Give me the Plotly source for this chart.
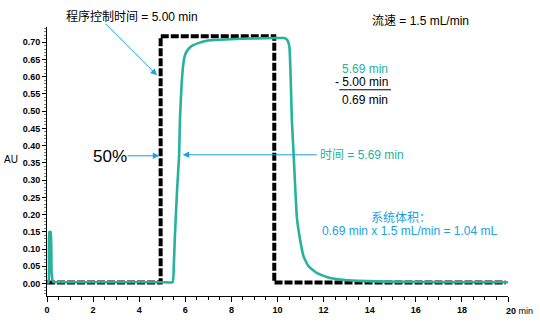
import plotly.graph_objects as go

# ---- data ----
step_x = [0, 4.93, 4.93, 9.86, 9.86, 19.9]
step_y = [0.003, 0.003, 0.717, 0.717, 0.003, 0.003]

trace_x = [0.0, 0.07, 0.1, 0.16, 0.2, 0.26, 0.4, 2.0, 4.0, 5.0, 5.45, 5.5, 5.55, 5.65, 5.73,
           5.77, 5.84, 5.92, 6.0, 6.13, 6.3, 6.6, 6.93, 7.5, 8.4, 9.8, 10.3, 10.4, 10.47,
           10.52, 10.58, 10.62, 10.7, 10.84, 11.0, 11.13, 11.35, 11.7, 12.2, 12.7, 13.5,
           15.0, 17.0, 20.0]
trace_y = [0.002, 0.004, 0.15, 0.15, 0.03, 0.006, 0.004, 0.004, 0.004, 0.004, 0.004, 0.05,
           0.14, 0.28, 0.37, 0.48, 0.578, 0.64, 0.665, 0.68, 0.69, 0.698, 0.704, 0.707,
           0.71, 0.712, 0.712, 0.708, 0.70, 0.684, 0.578, 0.479, 0.374, 0.193, 0.12, 0.079,
           0.05, 0.031, 0.018, 0.012, 0.008, 0.005, 0.004, 0.004]

y_ticks = [round(0.05 * i, 2) for i in range(15)]
x_ticks = [0, 2, 4, 6, 8, 10, 12, 14, 16, 18, 20]
x_ticktext = ["0", "2", "4", "6", "8", "10", "12", "14", "16", "18", ""]

TEAL = "rgb(38,178,155)"
BLUE = "rgb(27,160,226)"
FONT = "Liberation Sans, Arial, Noto Sans CJK SC"

L, R, T, B = 47, 32, 27, 27
W, H = 540, 327
X0, X1 = 0, 20
Y0, Y1 = -0.036, 0.744


def px2p(px):
    return (px - L) / (W - L - R)


def py2p(py):
    return (H - B - py) / (H - T - B)


fig = go.Figure()
fig.add_trace(go.Scatter(x=step_x, y=step_y, mode="lines",
                         line=dict(color="black", width=4, dash="8px,2px"),
                         hoverinfo="skip", cliponaxis=False))
fig.add_trace(go.Scatter(x=trace_x, y=trace_y, mode="lines",
                         line=dict(color=TEAL, width=2.6, shape="spline", smoothing=0.4),
                         hoverinfo="skip", cliponaxis=False))

ann = []


def text(px, py, s, color="black", size=12, anchor="center"):
    ann.append(dict(x=px2p(px), y=py2p(py), xref="paper", yref="paper", text=s,
                    showarrow=False, xanchor=anchor, yanchor="middle",
                    font=dict(family=FONT, size=size, color=color)))


def arrow(tx, ty, sx, sy):
    ann.append(dict(x=px2p(tx), y=py2p(ty), xref="paper", yref="paper",
                    ax=sx - tx, ay=sy - ty, text="", showarrow=True,
                    arrowhead=2, arrowsize=1.3, arrowwidth=1, arrowcolor=BLUE))


text(131.5, 16.7, "程序控制时间 = 5.00 min")
arrow(157, 76, 104, 23)
text(420, 21.3, "流速 = 1.5 mL/min")
text(390, 69.3, "5.69 min", color=TEAL, anchor="right")
text(390, 83.3, "- 5.00 min", anchor="right")
text(390, 100.7, "0.69 min", anchor="right")
text(109.7, 158.3, "50%", size=17)
arrow(159.3, 157.7, 126, 157.7)
arrow(182.7, 156.7, 318.3, 156.7)
text(317.5, 156.7, "时间 = 5.69 min", color=TEAL, anchor="left")
text(369, 221.2, "系统体积：", color=BLUE, anchor="left")
text(409, 233.8, "0.69 min x 1.5 mL/min = 1.04 mL", color=BLUE)
text(10.5, 161, "AU", size=10)
text(504, 315, "<b>20</b> min", size=9, anchor="left")

fig.update_layout(
    width=W, height=H,
    margin=dict(l=L, r=R, t=T, b=B),
    plot_bgcolor="white", paper_bgcolor="white",
    showlegend=False,
    annotations=ann,
    shapes=[dict(type="line", xref="paper", yref="paper", x0=px2p(339.3), x1=px2p(391),
                 y0=py2p(90.7), y1=py2p(90.7), line=dict(color="black", width=1))],
    xaxis=dict(range=[X0, X1], showgrid=False, zeroline=False, showline=True,
               linecolor="black", linewidth=1, ticks="outside", ticklen=5, tickwidth=1,
               tickcolor="black", tickvals=x_ticks, ticktext=x_ticktext,
               tickfont=dict(family=FONT, size=9, color="black", weight="bold"),
               minor=dict(dtick=0.5, ticks="outside", ticklen=3, tickcolor="black",
                          tickwidth=1, showgrid=False)),
    yaxis=dict(range=[Y0, Y1], showgrid=False, zeroline=False, showline=True,
               linecolor="black", linewidth=1, ticks="outside", ticklen=4, tickwidth=1,
               tickcolor="black", tickvals=y_ticks, tickformat=".2f",
               tickfont=dict(family=FONT, size=9, color="black", weight="bold"),
               minor=dict(dtick=0.01, tick0=0, ticks="outside", ticklen=2,
                          tickcolor="gray", tickwidth=1, showgrid=False)),
)

fig.write_html("out.html")
